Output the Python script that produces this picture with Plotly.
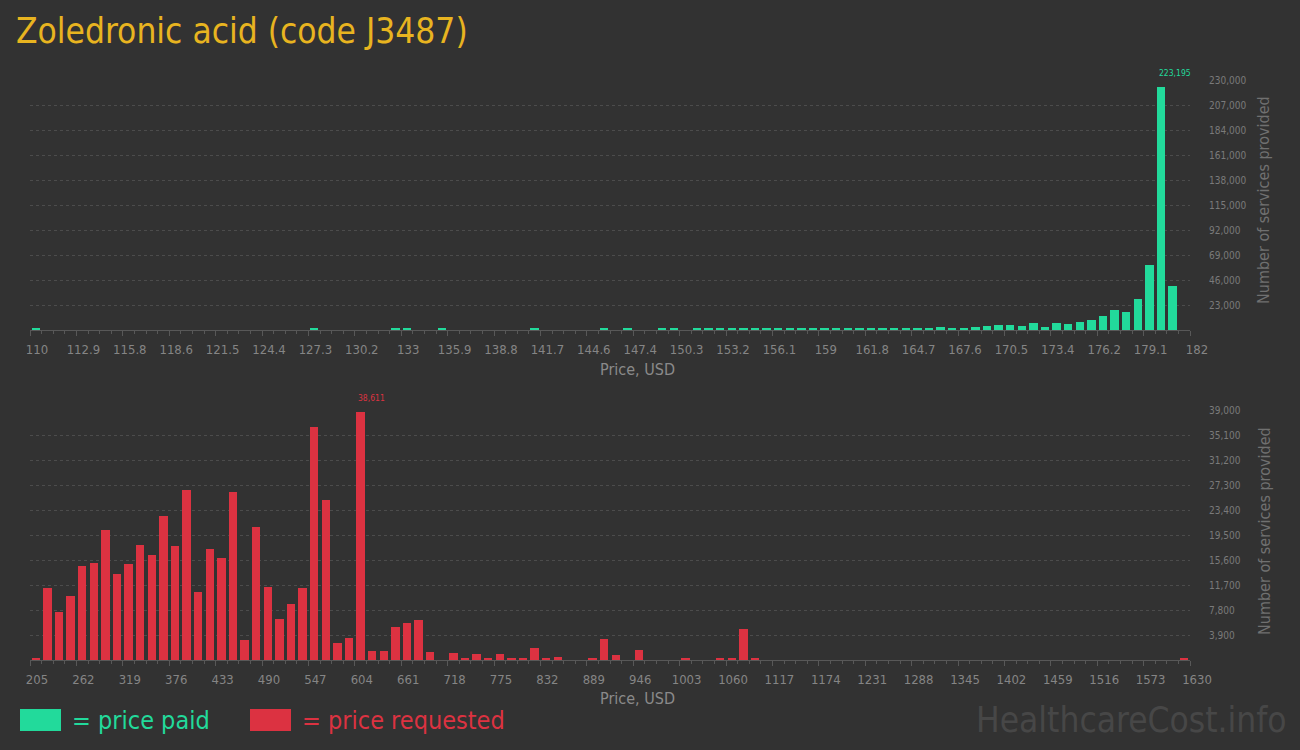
import plotly.graph_objects as go

# ---------------- data ----------------
# price paid histogram: 100 bins from 110 to 182 USD
paid_min, paid_max = 110.0, 182.0
paid_counts = [
    1150, 0, 0, 0, 0, 0, 0, 0, 0, 0,
    0, 0, 0, 0, 0, 0, 0, 0, 0, 0,
    0, 0, 0, 0, 1150, 0, 0, 0, 0, 0,
    0, 1150, 1150, 0, 0, 1150, 0, 0, 0, 0,
    0, 0, 0, 1150, 0, 0, 0, 0, 0, 1150,
    0, 1150, 0, 0, 1150, 1150, 0, 1150, 1150, 1150,
    1150, 1150, 1150, 1150, 1150, 1150, 1150, 1150, 1150, 1600,
    1600, 1150, 1600, 1150, 1600, 1840, 1600, 1600, 2760, 1840,
    1840, 2760, 3680, 4600, 4600, 3680, 6440, 2760, 6440, 5520,
    7360, 9200, 12880, 18400, 16560, 28520, 59800, 223195, 40480, 0,
]
paid_tick_labels = ["110", "112.9", "115.8", "118.6", "121.5", "124.4", "127.3",
                    "130.2", "133", "135.9", "138.8", "141.7", "144.6", "147.4",
                    "150.3", "153.2", "156.1", "159", "161.8", "164.7", "167.6",
                    "170.5", "173.4", "176.2", "179.1", "182"]
paid_y_ticks = [23000, 46000, 69000, 92000, 115000, 138000, 161000, 184000, 207000, 230000]

# price requested histogram: 100 bins from 205 to 1630 USD
req_min, req_max = 205.0, 1630.0
req_counts = [
    250, 11232, 7488, 9984, 14664, 15132, 20280, 13416, 14976, 17940,
    16380, 22464, 17784, 26520, 10608, 17316, 15912, 26208, 3120, 20748,
    11388, 6396, 8736, 11232, 36348, 24960, 2652, 3432, 38611, 1404,
    1404, 5148, 5772, 6240, 1248, 0, 1092, 200, 936, 200,
    936, 200, 330, 1872, 250, 468, 0, 0, 250, 3276,
    780, 0, 1560, 0, 0, 0, 250, 0, 0, 250,
    250, 4836, 200, 0, 0, 0, 0, 0, 0, 0,
    0, 0, 0, 0, 0, 0, 0, 0, 0, 0,
    0, 0, 0, 0, 0, 0, 0, 0, 0, 0,
    0, 0, 0, 0, 0, 0, 0, 0, 0, 250,
]
req_tick_labels = ["205", "262", "319", "376", "433", "490", "547", "604", "661",
                   "718", "775", "832", "889", "946", "1003", "1060", "1117", "1174",
                   "1231", "1288", "1345", "1402", "1459", "1516", "1573", "1630"]
req_y_ticks = [3900, 7800, 11700, 15600, 19500, 23400, 27300, 31200, 35100, 39000]

# ---------------- style ----------------
W, H = 1300, 750
BG = "#323232"
GREEN = "#22da9b"
RED = "#dc3241"
GOLD = "#e8b420"
FONT = "DejaVu Sans Condensed, Roboto, sans-serif"
TICK_C = "#858585"
GRID_C = "#4c4c4c"
AXIS_C = "#585858"


def px(x):
    return x / W


def py(y):
    return 1 - y / H


def bins(lo, hi, n):
    bw = (hi - lo) / n
    return bw, [lo + bw * (i + 0.5) for i in range(n)]


paid_bw, paid_x = bins(paid_min, paid_max, len(paid_counts))
req_bw, req_x = bins(req_min, req_max, len(req_counts))

n_lab = len(paid_tick_labels)
paid_tickvals = [paid_min + (paid_max - paid_min) * i / (n_lab - 1) for i in range(n_lab)]
n_lab2 = len(req_tick_labels)
req_tickvals = [req_min + (req_max - req_min) * i / (n_lab2 - 1) for i in range(n_lab2)]

fig = go.Figure()
fig.add_trace(go.Bar(x=paid_x, y=paid_counts, width=paid_bw * 0.74,
                     marker=dict(color=GREEN, line=dict(width=0)),
                     xaxis="x", yaxis="y", showlegend=False,
                     hovertemplate="%{x:.2f} USD: %{y:,}<extra></extra>"))
fig.add_trace(go.Bar(x=req_x, y=req_counts, width=req_bw * 0.74,
                     marker=dict(color=RED, line=dict(width=0)),
                     xaxis="x2", yaxis="y2", showlegend=False,
                     hovertemplate="%{x:.0f} USD: %{y:,}<extra></extra>"))


def xaxis_cfg(lo, hi, tickvals, ticktext, minor_dtick, anchor):
    return dict(
        domain=[px(30), px(1190)], range=[lo, hi], anchor=anchor,
        tickmode="array", tickvals=tickvals, ticktext=ticktext,
        ticks="outside", ticklen=5, tickcolor=AXIS_C, tickwidth=1,
        showline=True, linecolor=AXIS_C, linewidth=1,
        showgrid=False, zeroline=False, layer="below traces",
        tickfont=dict(family=FONT, size=13, color=TICK_C),
        ticklabelshift=7, ticklabelstandoff=2,
        minor=dict(tickmode="linear", tick0=lo, dtick=minor_dtick, ticks="outside",
                   ticklen=3, tickcolor=AXIS_C, showgrid=False),
        fixedrange=True,
    )


def yaxis_cfg(top, bot, ymax, tickvals, anchor):
    return dict(
        domain=[py(bot), py(top)], range=[0, ymax], anchor=anchor, side="right",
        tickmode="array", tickvals=tickvals,
        ticktext=[f"{v:,}" for v in tickvals],
        showgrid=True, gridcolor=GRID_C, griddash="3px,3px", gridwidth=1,
        zeroline=False, showline=False, ticks="", layer="below traces",
        tickfont=dict(family=FONT, size=10, color="#7a7a7a"),
        ticklabelstandoff=18, fixedrange=True,
    )


fig.update_layout(
    autosize=True,
    margin=dict(l=0, r=0, t=0, b=0, autoexpand=False),
    paper_bgcolor=BG, plot_bgcolor=BG,
    bargap=0,
    xaxis=xaxis_cfg(paid_min, paid_max, paid_tickvals, paid_tick_labels, paid_bw, "y"),
    yaxis=yaxis_cfg(80, 330, 230000, paid_y_ticks, "x"),
    xaxis2=xaxis_cfg(req_min, req_max, req_tickvals, req_tick_labels, req_bw, "y2"),
    yaxis2=yaxis_cfg(410, 660, 39000, req_y_ticks, "x2"),
)

ann = []
# title
ann.append(dict(text="Zoledronic acid (code J3487)", x=px(14), y=py(31), xref="paper", yref="paper",
                xanchor="left", yanchor="middle", showarrow=False,
                font=dict(family=FONT, size=35, color=GOLD)))
# peak labels
pk = max(range(len(paid_counts)), key=lambda i: paid_counts[i])
ann.append(dict(text=f"{paid_counts[pk]:,}", x=paid_x[pk] - paid_bw * 0.37, y=paid_counts[pk],
                xref="x", yref="y", xanchor="left", yanchor="bottom", yshift=7, showarrow=False,
                font=dict(family=FONT, size=8.5, color=GREEN)))
rk = max(range(len(req_counts)), key=lambda i: req_counts[i])
ann.append(dict(text=f"{req_counts[rk]:,}", x=req_x[rk] - req_bw * 0.37, y=req_counts[rk],
                xref="x2", yref="y2", xanchor="left", yanchor="bottom", yshift=7, showarrow=False,
                font=dict(family=FONT, size=8.5, color=RED)))
# axis titles
for yc in (369, 698):
    ann.append(dict(text="Price, USD", x=px(637), y=py(yc), xref="paper", yref="paper",
                    xanchor="center", yanchor="middle", showarrow=False,
                    font=dict(family=FONT, size=16, color="#8a8a8a")))
for yc in (200, 531):
    ann.append(dict(text="Number of services provided", x=px(1264), y=py(yc), xref="paper",
                    yref="paper", xanchor="center", yanchor="middle", showarrow=False,
                    textangle=-90, font=dict(family=FONT, size=16, color="#707070")))
# legend
ann.append(dict(text="= price paid", x=px(70), y=py(720), xref="paper", yref="paper",
                xanchor="left", yanchor="middle", showarrow=False,
                font=dict(family=FONT, size=25, color=GREEN)))
ann.append(dict(text="= price requested", x=px(300), y=py(720), xref="paper", yref="paper",
                xanchor="left", yanchor="middle", showarrow=False,
                font=dict(family=FONT, size=25, color=RED)))
# watermark
ann.append(dict(text="HealthcareCost.info", x=px(1289), y=py(720), xref="paper", yref="paper",
                xanchor="right", yanchor="middle", showarrow=False,
                font=dict(family=FONT, size=35, color="#474747")))

shapes = [
    dict(type="rect", xref="paper", yref="paper", x0=px(20), x1=px(61), y0=py(731), y1=py(709),
         fillcolor=GREEN, line=dict(width=0)),
    dict(type="rect", xref="paper", yref="paper", x0=px(250), x1=px(291), y0=py(731), y1=py(709),
         fillcolor=RED, line=dict(width=0)),
]
fig.update_layout(annotations=ann, shapes=shapes)

post = (
    "document.documentElement.style.margin='0';"
    "document.documentElement.style.overflow='hidden';"
    "document.body.style.margin='0';document.body.style.padding='0';"
    "document.body.style.overflow='hidden';"
    "var gd=document.getElementById('{plot_id}');"
    "gd.style.position='fixed';gd.style.left='0';gd.style.top='0';"
    "gd.style.width='100vw';gd.style.height='100vh';"
    "Plotly.Plots.resize(gd);"
)
fig.write_html("out.html", config={"displayModeBar": False, "responsive": True},
               default_width="100vw", default_height="100vh", post_script=post)
